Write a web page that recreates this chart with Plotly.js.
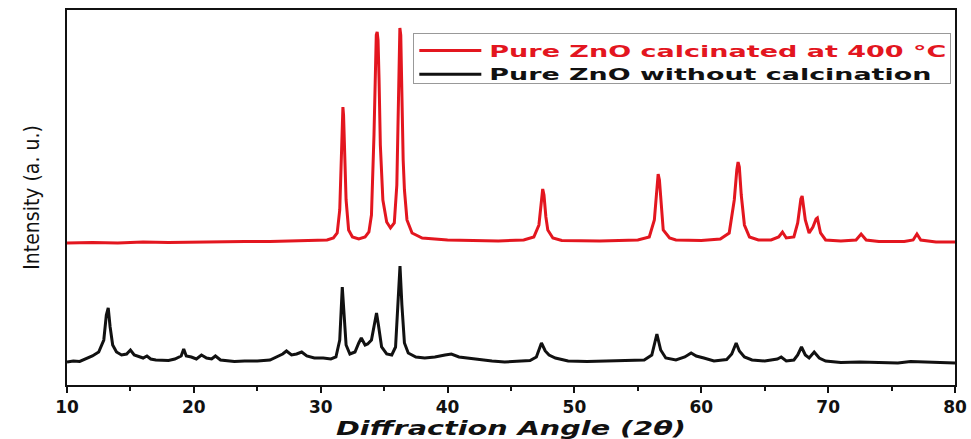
<!DOCTYPE html>
<html>
<head>
<meta charset="utf-8">
<script src="https://cdn.plot.ly/plotly-3.0.1.min.js"></script>
<style>html,body{margin:0;padding:0;background:#fff}#chart{width:971px;height:439px}</style>
</head>
<body>
<div id="chart"></div>
<script>
// Diffraction angle (2θ) and intensity (a.u.)
const calcAngle = [10,12,14,16,18,20,22,24,26,28,29.5,30.5,31.0,31.3,31.5,31.6,31.7,31.75,31.8,31.9,32.0,32.2,32.5,33.0,33.5,33.8,34.0,34.2,34.3,34.38,34.45,34.52,34.6,34.7,34.9,35.2,35.5,35.8,36.0,36.1,36.17,36.24,36.31,36.38,36.5,36.6,36.8,37.2,38,40,42,44,46,46.8,47.2,47.4,47.5,47.6,47.75,47.9,48.3,49,52,55,55.9,56.3,56.5,56.6,56.7,56.85,57.0,57.5,58,60,61.5,62.2,62.6,62.8,62.9,63.0,63.15,63.4,63.8,64.5,65.5,66.1,66.4,66.7,67.3,67.6,67.85,67.95,68.2,68.5,68.8,69.05,69.15,69.4,69.8,71,72.2,72.6,73.0,74,76,76.7,77.0,77.3,78.5,80];
const calcIntensity = [142,142.5,142,143,142.5,143,143,143.5,143.5,144,144,145,147,152,175,225,272,278,270,225,185,155,148,146,148,153,170,250,320,350,353,345,305,240,185,163,157,162,200,265,330,357,350,300,225,195,165,152,147,145,144.5,144,145,148,160,185,196,190,168,155,147,144.5,144,145,148,165,200,211,205,178,155,147,145,144.5,146,152,185,215,223,218,190,160,148,145,145,148,153,147,148,162,186,189,165,152,158,166,167,152,145,144,145,151,145,143.5,143.5,145,151,145,143,143];

const rawAngle = [10,10.5,11,11.5,12,12.5,12.9,13.1,13.25,13.4,13.6,13.9,14.3,14.7,15.0,15.3,15.7,16.0,16.3,16.6,17.0,17.5,18,18.5,19.0,19.2,19.4,19.8,20.2,20.6,21.0,21.4,21.7,22.1,22.6,23.2,24,25,26,26.5,27.0,27.3,27.7,28.1,28.5,28.9,29.5,30.2,30.8,31.2,31.5,31.7,31.85,32.0,32.3,32.7,33.0,33.2,33.5,33.7,34.0,34.2,34.4,34.55,34.8,35.2,35.6,35.9,36.1,36.25,36.4,36.6,36.9,37.5,38.2,39,39.8,40.3,40.9,41.5,42.5,43.5,44.5,45.5,46.5,47.0,47.4,47.7,48.0,48.5,49.5,51,52.5,54,55.5,56.1,56.5,56.8,57.2,58,58.7,59.2,59.6,60.2,61,62,62.4,62.75,63.0,63.4,64.0,65,66.0,66.3,66.7,67.3,67.6,67.9,68.2,68.5,68.9,69.3,69.8,71,72.5,74,75.5,76.5,77.3,78.5,80];
const rawIntensity = [23,24,23.5,26,29,33,45,70,77,58,40,33,30,31,35,30,28,27,29,26,25,25,24.5,26,29,36,29,28,26,30,27,26,29,25,24,23.5,24,24,25,28,31,34,30,31,33,29,27,27,26,28,45,98,70,40,31,33,42,47,40,41,45,60,72,60,38,31,30,38,80,119,80,42,32,28,27,28,30,31,28,27,25,24,23,24,24.5,28,42,34,30,27,24,23.5,24,25,25,30,51,35,27,25,28,32,29,27,24,25.5,31,42,34,28,25,24,26,28,24,25,30,38,30,27,33,27,24,22.5,23,22.5,22,23.5,23,22.5,22];

const seriesNames = ['Pure ZnO calcinated at 400 °C', 'Pure ZnO without calcination'];
const xTickVals = [10,20,30,40,50,60,70,80];

const traces = [
  {x: calcAngle, y: calcIntensity, type: 'scatter', mode: 'lines',
   name: '<span style="color:#e3161f">' + seriesNames[0] + '</span>',
   line: {color: '#e3161f', width: 3}},
  {x: rawAngle, y: rawIntensity, type: 'scatter', mode: 'lines',
   name: seriesNames[1],
   line: {color: '#111111', width: 3}}
];

const layout = {
  width: 971, height: 439,
  margin: {l: 67, r: 16, t: 10, b: 54},
  paper_bgcolor: '#fff', plot_bgcolor: '#fff',
  showlegend: true,
  legend: {x: 0.39, y: 0.94, xanchor: 'left', yanchor: 'top',
    bgcolor: '#fff', bordercolor: '#999', borderwidth: 1,
    font: {family: 'DejaVu Sans', size: 16, color: '#111', weight: 'bold'},
    tracegroupgap: 0},
  xaxis: {range: [10, 80], tickvals: xTickVals, ticks: 'outside', ticklen: 6, tickwidth: 2,
    tickcolor: '#111', showline: true, linecolor: '#111', linewidth: 2, mirror: true,
    showgrid: false, zeroline: false,
    minor: {dtick: 5, ticks: 'outside', ticklen: 4, tickwidth: 2, tickcolor: '#111', showgrid: false},
    tickfont: {family: 'DejaVu Sans', size: 17, color: '#111', weight: 'bold'},
    title: {text: 'Diffraction Angle (2<i>θ</i>)', standoff: 5,
      font: {family: 'DejaVu Sans', size: 19, color: '#111', weight: 'bold', style: 'italic'}}},
  yaxis: {range: [0, 375], showticklabels: false, ticks: '', showline: true, linecolor: '#111',
    linewidth: 2, mirror: true, showgrid: false, zeroline: false,
    title: {text: 'Intensity (a. u.)', standoff: 20,
      font: {family: 'DejaVu Sans Condensed, Liberation Sans Narrow, Roboto Condensed, sans-serif', size: 21, color: '#111'}}}
};

const legendTextLengths = [457, 442];

Plotly.newPlot('chart', traces, layout, {displayModeBar: false, staticPlot: true}).then(function (gd) {
  const items = gd.querySelectorAll('.legend .traces');
  items.forEach(function (item, i) {
    const line = item.querySelector('.legendlines path');
    if (line) line.setAttribute('d', 'M5,0h62');
    const txt = item.querySelector('.legendtext');
    if (txt) {
      txt.setAttribute('x', '75');
      txt.querySelectorAll('tspan').forEach(function (t) { if (t.getAttribute('x') !== null) t.setAttribute('x', '75'); });
      txt.setAttribute('textLength', String(legendTextLengths[i]));
      txt.setAttribute('lengthAdjust', 'spacingAndGlyphs');
    }
  });
  gd.querySelectorAll('.legend [clip-path]').forEach(function (el) { el.removeAttribute('clip-path'); });
  const bg = gd.querySelector('.legend .bg');
  if (bg) { bg.setAttribute('width', '537'); bg.setAttribute('height', '50'); }
  const xt = gd.querySelector('.xtitle');
  if (xt) { xt.setAttribute('textLength', '350'); xt.setAttribute('lengthAdjust', 'spacingAndGlyphs'); }
});
</script>
</body>
</html>
